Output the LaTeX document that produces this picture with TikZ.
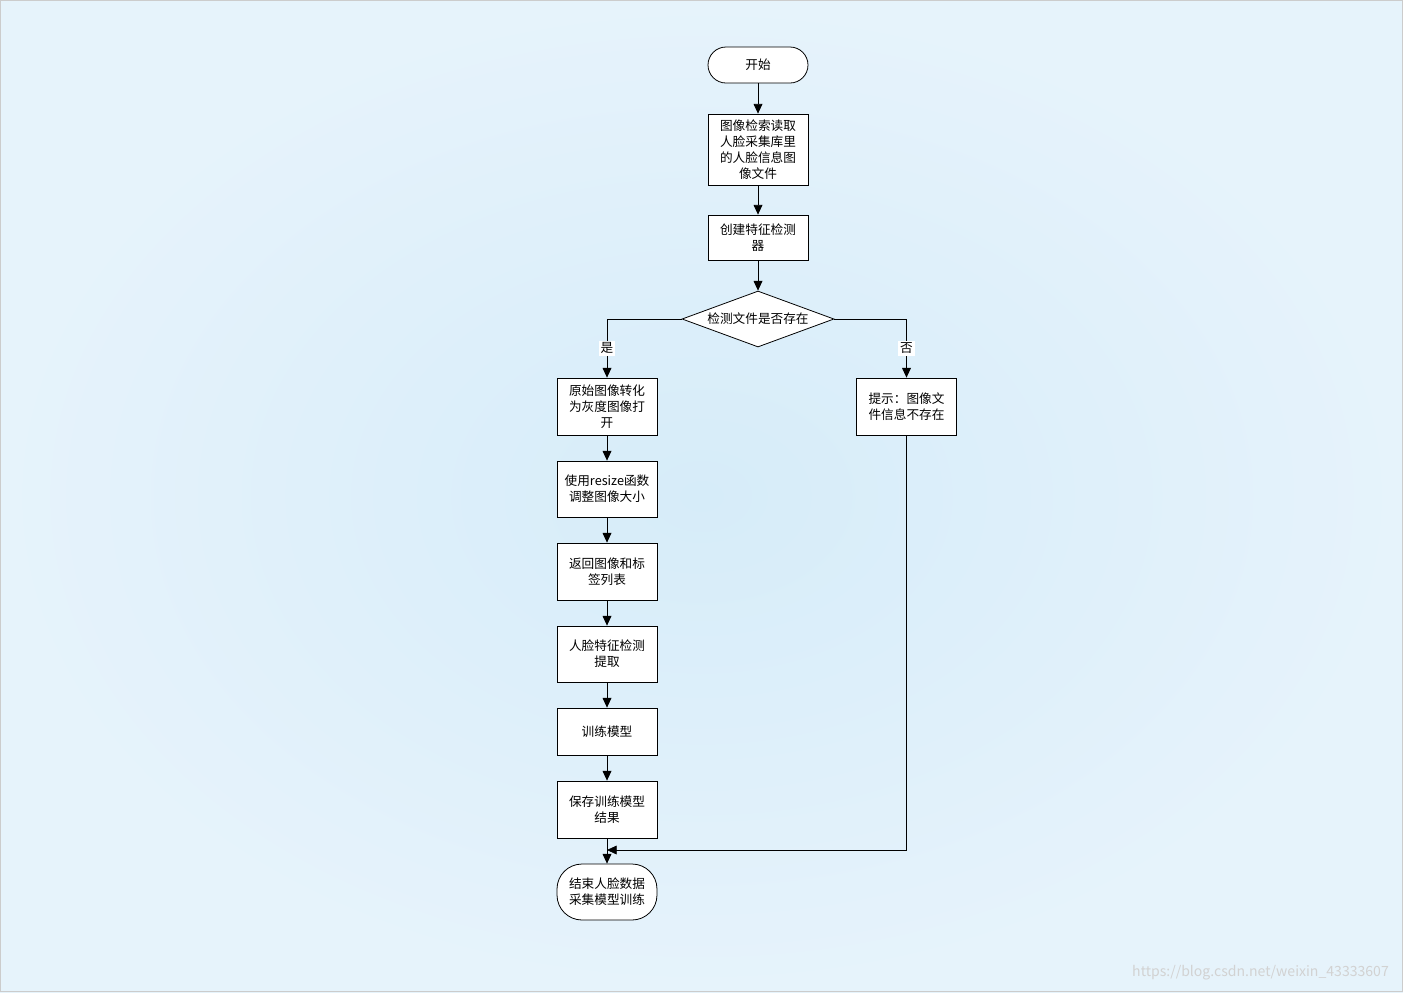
\documentclass[tikz,border=0pt]{standalone}
\usepackage{fontspec}
\setmainfont{Noto Sans CJK SC}
\usetikzlibrary{shapes.geometric,arrows.meta}
\definecolor{bgin}{RGB}{214,236,249}
\definecolor{bgout}{RGB}{230,243,251}
\begin{document}
\begin{tikzpicture}[x=0.02cm,y=-0.02cm,
  box/.style={draw,fill=white,line width=0.45pt,minimum width=2cm,align=center,font=\fontsize{7.2pt}{9.2pt}\selectfont,inner sep=1pt},
  term/.style={box,rounded corners=0.36cm},
  arr/.style={-{Triangle[length=5.5pt,width=5pt]},line width=0.45pt},
  lab/.style={fill=white,font=\fontsize{7.2pt}{8pt}\selectfont,inner sep=1pt}]
\useasboundingbox (0,0) rectangle (1403,992);
\shade[inner color=bgin,outer color=bgout] (0,0) rectangle (1403,992);
\draw[color=gray!40] (0.5,0.5) rectangle (1402.5,991.5);
\node[term,minimum height=0.72cm] (start) at (758,65) {开始};
\node[box,minimum height=1.42cm] (read) at (758,149.5) {图像检索读取\\人脸采集库里\\的人脸信息图\\像文件};
\node[box,minimum height=0.9cm] (create) at (758,237.5) {创建特征检测\\器};
\node[draw,fill=white,line width=0.45pt,diamond,aspect=2.7,minimum width=3.04cm,minimum height=1.12cm,inner sep=0pt,font=\fontsize{7.2pt}{9pt}\selectfont] (dec) at (758,319) {检测文件是否存在};
\node[box,minimum height=1.14cm] (gray) at (607,406.5) {原始图像转化\\为灰度图像打\\开};
\node[box,minimum height=1.12cm] (resize) at (607,489) {使用resize函数\\调整图像大小};
\node[box,minimum height=1.14cm] (ret) at (607,571.5) {返回图像和标\\签列表};
\node[box,minimum height=1.12cm] (feat) at (607,654) {人脸特征检测\\提取};
\node[box,minimum height=0.94cm] (train) at (607,731.5) {训练模型};
\node[box,minimum height=1.14cm] (save) at (607,809.5) {保存训练模型\\结果};
\node[term,minimum height=1.12cm,rounded corners=0.5cm] (end) at (607,892) {结束人脸数据\\采集模型训练};
\node[box,minimum height=1.14cm] (tip) at (906.5,406.5) {提示：图像文\\件信息不存在};
\coordinate (j) at (607,850);
\draw[arr] (start) -- (read);
\draw[arr] (read) -- (create);
\draw[arr] (create) -- (dec);
\draw[arr] (dec.west) -| node[lab,pos=0.75] {是} (gray.north);
\draw[arr] (dec.east) -| node[lab,pos=0.75] {否} (tip.north);
\draw[arr] (gray) -- (resize);
\draw[arr] (resize) -- (ret);
\draw[arr] (ret) -- (feat);
\draw[arr] (feat) -- (train);
\draw[arr] (train) -- (save);
\draw[arr] (save) -- (end);
\draw[arr] (tip.south) |- (j);
\node[text=gray!35,font=\fontsize{8pt}{9pt}\selectfont,anchor=east] (wm) at (1395,973) {https://blog.csdn.net/weixin\_43333607};
\end{tikzpicture}
\end{document}
